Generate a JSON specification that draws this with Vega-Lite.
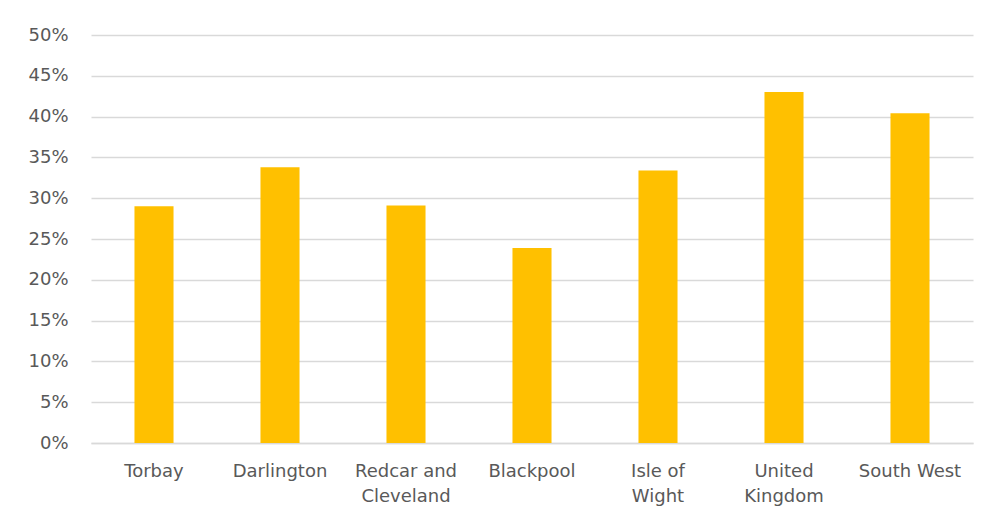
{
  "$schema": "https://vega.github.io/schema/vega-lite/v6.json",
  "autosize": {"type": "none"},
  "width": 882,
  "height": 408,
  "padding": {"left": 91, "top": 35, "right": 18, "bottom": 78},
  "background": "white",
  "data": {
    "values": [
      {"area": "Torbay", "share": 0.29},
      {"area": "Darlington", "share": 0.338},
      {"area": "Redcar and Cleveland", "share": 0.291},
      {"area": "Blackpool", "share": 0.239},
      {"area": "Isle of Wight", "share": 0.334},
      {"area": "United Kingdom", "share": 0.43},
      {"area": "South West", "share": 0.404}
    ]
  },
  "mark": {"type": "bar", "color": "#FFC000"},
  "encoding": {
    "x": {
      "field": "area",
      "type": "nominal",
      "sort": null,
      "scale": {"paddingInner": 0.69, "paddingOuter": 0.345},
      "axis": {
        "title": null,
        "labelAngle": 0,
        "labelFont": "DejaVu Sans",
        "labelFontSize": 18,
        "labelColor": "#595959",
        "labelPadding": 19,
        "labelLineHeight": 25,
        "labelBaseline": "top",
        "labelExpr": "datum.label == 'Redcar and Cleveland' ? ['Redcar and', 'Cleveland'] : datum.label == 'Isle of Wight' ? ['Isle of', 'Wight'] : datum.label == 'United Kingdom' ? ['United', 'Kingdom'] : datum.label",
        "ticks": false,
        "domain": true,
        "domainColor": "#D9D9D9",
        "domainWidth": 1.5,
        "grid": false
      }
    },
    "y": {
      "field": "share",
      "type": "quantitative",
      "scale": {"domain": [0, 0.5], "nice": false},
      "axis": {
        "title": null,
        "values": [0, 0.05, 0.1, 0.15, 0.2, 0.25, 0.3, 0.35, 0.4, 0.45, 0.5],
        "format": ".0%",
        "labelFont": "DejaVu Sans",
        "labelFontSize": 18,
        "labelColor": "#595959",
        "labelPadding": 23,
        "ticks": false,
        "domain": false,
        "grid": true,
        "gridColor": "#D9D9D9",
        "gridWidth": 1.5
      }
    }
  },
  "config": {"view": {"stroke": null}}
}
